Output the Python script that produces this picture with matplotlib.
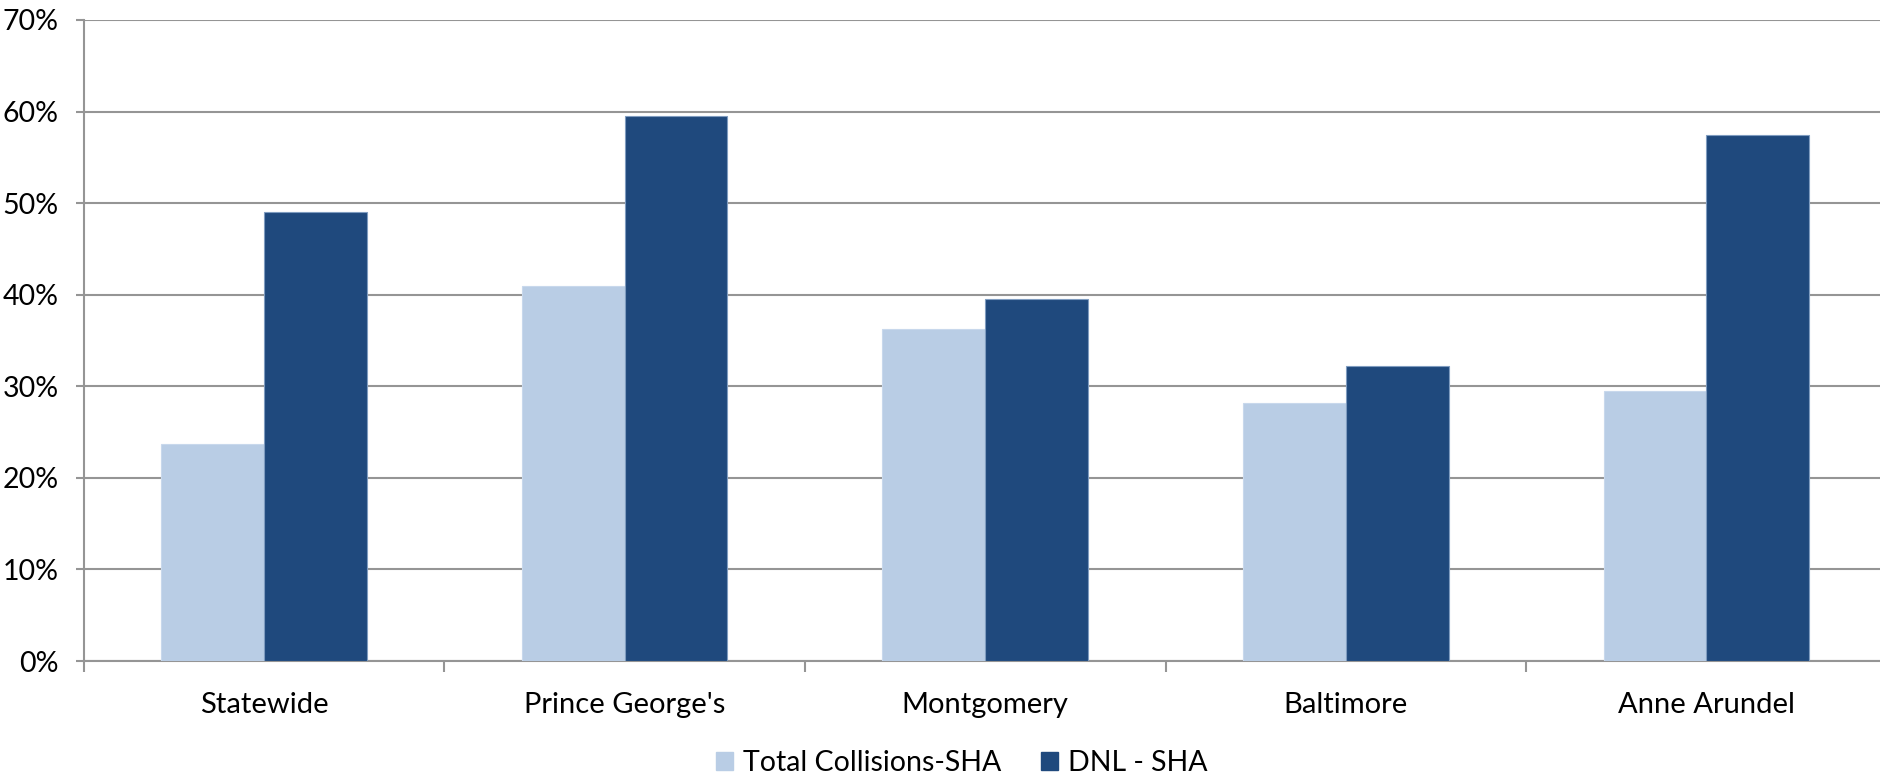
import matplotlib
matplotlib.use("Agg")
import matplotlib.pyplot as plt
import numpy as np
from matplotlib.patches import Patch

categories = ["Statewide", "Prince George's", "Montgomery", "Baltimore", "Anne Arundel"]
total_collisions = [23.7, 40.9, 36.3, 28.2, 29.5]
dnl = [49.0, 59.5, 39.5, 32.2, 57.4]
series_names = ["Total Collisions-SHA", "DNL - SHA"]
yticks = [0, 10, 20, 30, 40, 50, 60, 70]

plt.rcParams['font.family'] = ['Lato', 'DejaVu Sans']

fig = plt.figure(figsize=(18.8, 7.78), dpi=100)
ax = fig.add_axes([83.7/1880, 1 - 661/778, 5*360.6/1880, (661-20)/778])

x = np.arange(len(categories))
w = 0.285
light = "#B9CDE5"
dark = "#1F497D"
ax.bar(x - w/2, total_collisions, w, color=light, edgecolor="#C8D8EC", linewidth=0.8, zorder=3)
ax.bar(x + w/2, dnl, w, color=dark, edgecolor="#7F9CC0", linewidth=0.8, zorder=3)

ax.set_xlim(-0.5, len(categories) - 0.5)
ax.set_ylim(0, 70)
ax.set_yticks(yticks)
ax.set_yticklabels([f"{v}%" for v in yticks], fontsize=20.5)
ax.yaxis.grid(True, color="#959595", linewidth=1.5, zorder=0)
ax.set_axisbelow(True)

ax.set_xticks(x)
ax.set_xticklabels(categories, fontsize=21)
ax.set_xticks(np.arange(-0.5, len(categories)), minor=True)
ax.tick_params(axis='x', which='major', length=0, pad=22)
ax.tick_params(axis='x', which='minor', length=8, width=1.5, color="#959595")
ax.tick_params(axis='y', length=6, width=1.5, color="#959595", pad=12)

for s in ["top", "right"]:
    ax.spines[s].set_visible(False)
for s in ["left", "bottom"]:
    ax.spines[s].set_color("#959595")
    ax.spines[s].set_linewidth(1.5)

handles = [Patch(facecolor=light, edgecolor=light), Patch(facecolor=dark, edgecolor=dark)]
fig.legend(handles, series_names, loc="center", bbox_to_anchor=(962/1880, 1 - 763/778),
           ncol=2, frameon=False, fontsize=20.5, handlelength=0.6, handleheight=0.6,
           handletextpad=0.35, columnspacing=1.4, borderpad=0.2)

fig.savefig("out.png", dpi=100)
